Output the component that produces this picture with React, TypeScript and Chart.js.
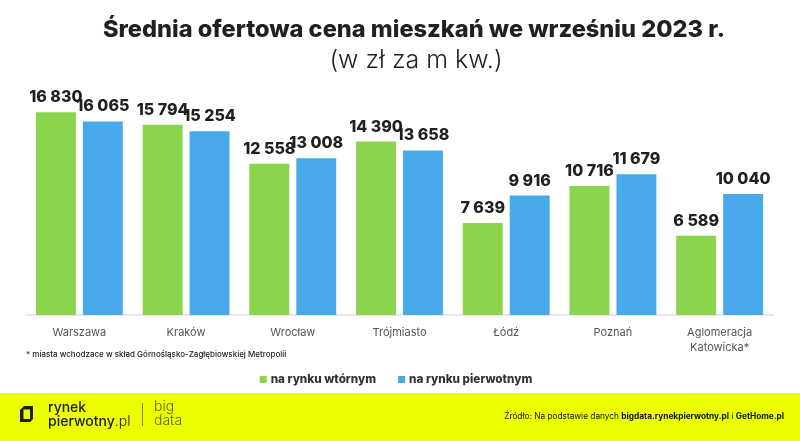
import React, { useEffect, useRef } from "react";
import { Chart, registerables } from "chart.js";

Chart.register(...registerables);

const categories: (string | string[])[] = [
  "Warszawa",
  "Kraków",
  "Wrocław",
  "Trójmiasto",
  "Łódź",
  "Poznań",
  ["Aglomeracja", "Katowicka*"],
];
const secondaryMarket = [16830, 15794, 12558, 14390, 7639, 10716, 6589];
const primaryMarket = [16065, 15254, 13008, 13658, 9916, 11679, 10040];
const seriesNames = ["na rynku wtórnym", "na rynku pierwotnym"];
const seriesColors = ["#8cd44e", "#47a9ea"];
const titleText = "Średnia ofertowa cena mieszkań we wrześniu 2023 r.";
const subtitleText = "(w zł za m kw.)";
const footnoteText = "* miasta wchodzace w skład Górnośląsko-Zagłębiowskiej Metropolii";

const FONT = "Inter, 'Open Sans', sans-serif";

const fmt = (v: number) => String(v).replace(/\B(?=(\d{3})+(?!\d))/g, " ");

const valueLabels = {
  id: "valueLabels",
  afterDatasetsDraw(chart: any) {
    const ctx = chart.ctx;
    ctx.save();
    ctx.font = `800 16px ${FONT}`;
    ctx.fillStyle = "#1f1f24";
    ctx.textAlign = "center";
    ctx.textBaseline = "alphabetic";
    chart.data.datasets.forEach((ds: any, i: number) => {
      const meta = chart.getDatasetMeta(i);
      meta.data.forEach((bar: any, j: number) => {
        ctx.fillText(fmt(ds.data[j]), bar.x, bar.y - 10);
      });
    });
    ctx.restore();
  },
};

const decorations = {
  id: "decorations",
  afterDraw(chart: any) {
    const ctx = chart.ctx;
    const W = chart.width;
    const H = chart.height;
    ctx.save();
    // title & subtitle
    ctx.textAlign = "center";
    ctx.textBaseline = "alphabetic";
    ctx.fillStyle = "#1f1f24";
    ctx.font = `800 23.6px ${FONT}`;
    ctx.fillText(titleText, 414, 37);
    ctx.font = `300 25px ${FONT}`;
    ctx.fillText(subtitleText, 416, 68);

    // footnote
    ctx.textAlign = "left";
    ctx.textBaseline = "middle";
    ctx.fillStyle = "#222";
    ctx.font = `500 8px ${FONT}`;
    ctx.fillText(footnoteText, chart.chartArea.left, 355);

    // legend
    ctx.font = `800 11.7px ${FONT}`;
    const box = 7;
    const gap = 4;
    const between = 22;
    const widths = seriesNames.map((n) => box + gap + ctx.measureText(n).width);
    const total = widths.reduce((a, b) => a + b, 0) + between * (seriesNames.length - 1);
    let lx = 396 - total / 2;
    const ly = 379.5;
    seriesNames.forEach((n, i) => {
      ctx.fillStyle = seriesColors[i];
      ctx.fillRect(lx, ly - box / 2, box, box);
      ctx.fillStyle = "#333";
      ctx.fillText(n, lx + box + gap, ly);
      lx += widths[i] + between;
    });

    // footer band
    const top = H - 48;
    ctx.fillStyle = "#ecff00";
    ctx.fillRect(0, top, W, 48);
    // logo icon
    ctx.fillStyle = "#1d1d1b";
    ctx.beginPath();
    ctx.moveTo(24, top + 13);
    ctx.lineTo(33, top + 13);
    ctx.lineTo(33, top + 26);
    ctx.lineTo(30, top + 29);
    ctx.lineTo(20, top + 29);
    ctx.lineTo(20, top + 17);
    ctx.closePath();
    ctx.moveTo(23.5, top + 16.5);
    ctx.lineTo(23.5, top + 26);
    ctx.lineTo(30, top + 26);
    ctx.lineTo(30, top + 16.5);
    ctx.closePath();
    ctx.fill("evenodd");
    ctx.textBaseline = "alphabetic";
    ctx.font = `500 14px ${FONT}`;
    ctx.fillText("rynek", 48, top + 19);
    const w1 = ctx.measureText("pierwotny").width;
    ctx.fillText("pierwotny", 48, top + 33);
    ctx.font = `300 14px ${FONT}`;
    ctx.fillText(".pl", 48 + w1, top + 33);
    ctx.strokeStyle = "#8a8f00";
    ctx.lineWidth = 1;
    ctx.beginPath();
    ctx.moveTo(142.5, top + 10);
    ctx.lineTo(142.5, top + 33);
    ctx.stroke();
    ctx.fillStyle = "#5a5f00";
    ctx.font = `300 14px ${FONT}`;
    ctx.fillText("big", 154, top + 18);
    ctx.fillText("data", 154, top + 32);
    // source
    const parts: [string, boolean][] = [
      ["Źródło: Na podstawie danych ", false],
      ["bigdata.rynekpierwotny.pl", true],
      [" i ", false],
      ["GetHome.pl", true],
    ];
    let sum = 0;
    parts.forEach(([t, b]) => {
      ctx.font = `${b ? 700 : 400} 8.3px ${FONT}`;
      sum += ctx.measureText(t).width;
    });
    let x = 784 - sum;
    ctx.fillStyle = "#111";
    parts.forEach(([t, b]) => {
      ctx.font = `${b ? 700 : 400} 8.3px ${FONT}`;
      ctx.fillText(t, x, top + 26);
      x += ctx.measureText(t).width;
    });
    ctx.restore();
  },
};

export default function App() {
  const ref = useRef<HTMLCanvasElement>(null);
  useEffect(() => {
    document.body.style.margin = "0";
    const chart = new Chart(ref.current!, {
      type: "bar",
      data: {
        labels: categories,
        datasets: [
          {
            label: seriesNames[0],
            data: secondaryMarket,
            backgroundColor: seriesColors[0],
            barPercentage: 0.85,
            categoryPercentage: 0.88,
          },
          {
            label: seriesNames[1],
            data: primaryMarket,
            backgroundColor: seriesColors[1],
            barPercentage: 0.85,
            categoryPercentage: 0.88,
          },
        ],
      },
      options: {
        responsive: false,
        animation: false,
        layout: { padding: { top: 80, left: 26, right: 27, bottom: 76 } },
        scales: {
          x: {
            grid: { display: false, drawTicks: false },
            border: { color: "#e8e8e8", width: 2 },
            ticks: {
              color: "#555",
              font: { family: FONT, size: 11, lineHeight: 1.36 },
              padding: 10,
              maxRotation: 0,
            },
          },
          y: { display: false, min: 0, max: 19500 },
        },
        plugins: {
          legend: { display: false },
          title: { display: false },
          tooltip: { enabled: false },
        },
      },
      plugins: [valueLabels, decorations],
    });
    return () => chart.destroy();
  }, []);
  return (
    <div style={{ width: 800, height: 441 }}>
      <canvas ref={ref} width={800} height={441} />
    </div>
  );
}
